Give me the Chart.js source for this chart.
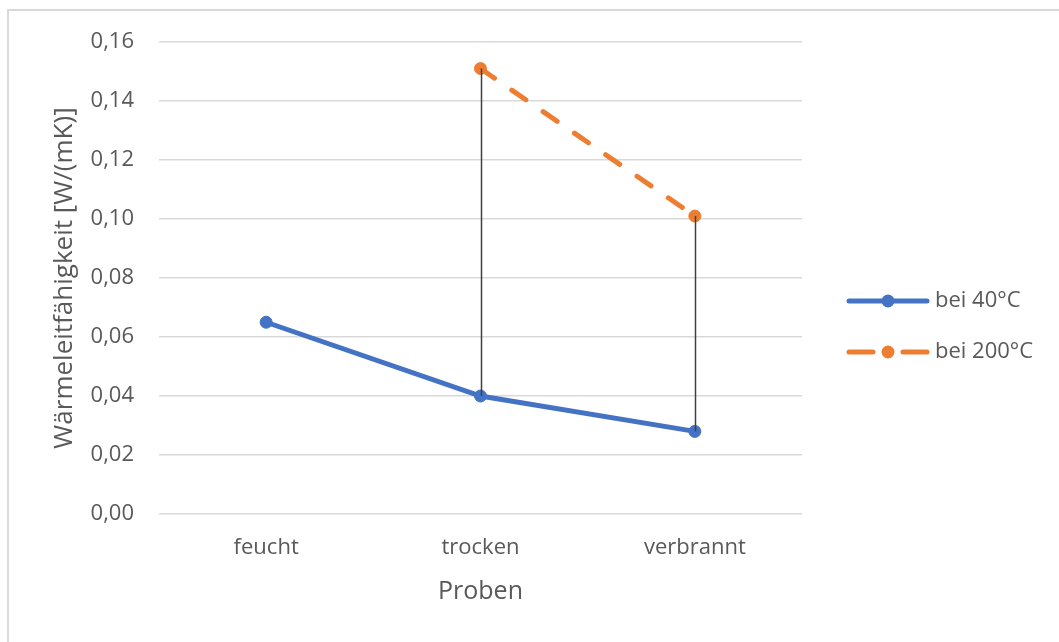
<!DOCTYPE html>
<html lang="de">
<head>
<meta charset="utf-8">
<title>Wärmeleitfähigkeit</title>
<script src="https://cdn.jsdelivr.net/npm/chart.js@4.4.1/dist/chart.umd.min.js"></script>
<style>
    html, body { margin: 0; padding: 0; background: #fff; }
    #wrap { position: relative; width: 1059px; height: 642px; }
</style>
</head>
<body>
<div id="wrap"><canvas id="chart" width="1059" height="642"></canvas></div>
<script>
const categories = ['feucht', 'trocken', 'verbrannt'];
const values40 = [0.065, 0.040, 0.028];
const values200 = [null, 0.151, 0.101];
const seriesNames = ['bei 40°C', 'bei 200°C'];
const yTicks = [0, 0.02, 0.04, 0.06, 0.08, 0.10, 0.12, 0.14, 0.16];

const textColor = '#595959';
const gridColor = '#d9d9d9';
const fontFamily = "'Open Sans', 'Noto Sans', sans-serif";

const fmt = v => v.toFixed(2).replace('.', ',');

// outer frame of the chart object (top and left edges only)
const framePlugin = {
    id: 'frame',
    beforeDraw(chart) {
        const ctx = chart.ctx;
        ctx.save();
        ctx.strokeStyle = gridColor;
        ctx.lineWidth = 2;
        ctx.beginPath();
        ctx.moveTo(8, chart.height);
        ctx.lineTo(8, 10);
        ctx.lineTo(chart.width, 10);
        ctx.stroke();
        ctx.restore();
    }
};

// vertical high-low lines between the two series
const hiLoPlugin = {
    id: 'hiLo',
    afterDatasetsDraw(chart) {
        const ctx = chart.ctx;
        const x = chart.scales.x, y = chart.scales.y;
        ctx.save();
        ctx.strokeStyle = '#404040';
        ctx.lineWidth = 1.5;
        categories.forEach((c, i) => {
            if (values40[i] == null || values200[i] == null) return;
            const px = Math.round(x.getPixelForValue(i)) + 0.5;
            ctx.beginPath();
            ctx.moveTo(px, y.getPixelForValue(values200[i]));
            ctx.lineTo(px, y.getPixelForValue(values40[i]));
            ctx.stroke();
        });
        ctx.restore();
    }
};

// legend with line + marker sample, right of the plot
const legendPlugin = {
    id: 'sideLegend',
    afterDraw(chart) {
        const ctx = chart.ctx;
        const x0 = 849, x1 = 927, tx = 935;
        const rows = [301, 352];
        ctx.save();
        chart.data.datasets.forEach((ds, i) => {
            const yy = rows[i];
            ctx.strokeStyle = ds.borderColor;
            ctx.lineWidth = ds.borderWidth;
            ctx.lineCap = 'round';
            ctx.beginPath();
            if (ds.borderDash) {
                ctx.moveTo(x0, yy); ctx.lineTo(x0 + 24, yy);
                ctx.moveTo(x1 - 24, yy); ctx.lineTo(x1, yy);
            } else {
                ctx.moveTo(x0, yy); ctx.lineTo(x1, yy);
            }
            ctx.stroke();
            ctx.fillStyle = ds.pointBackgroundColor;
            ctx.beginPath();
            ctx.arc((x0 + x1) / 2, yy, 6.5, 0, Math.PI * 2);
            ctx.fill();
            ctx.fillStyle = textColor;
            ctx.font = `22px ${fontFamily}`;
            ctx.textBaseline = 'middle';
            ctx.textAlign = 'left';
            ctx.fillText(ds.label, tx, yy);
        });
        ctx.restore();
    }
};

new Chart(document.getElementById('chart'), {
    type: 'line',
    data: {
        labels: categories,
        datasets: [
            {
                label: seriesNames[0],
                data: values40,
                borderColor: '#4472c4',
                backgroundColor: '#4472c4',
                pointBackgroundColor: '#4472c4',
                pointBorderColor: '#4472c4',
                borderWidth: 5,
                pointRadius: 6,
                pointBorderWidth: 1,
                borderCapStyle: 'round',
                tension: 0
            },
            {
                label: seriesNames[1],
                data: values200,
                borderColor: '#ed7d31',
                backgroundColor: '#ed7d31',
                pointBackgroundColor: '#ed7d31',
                pointBorderColor: '#ed7d31',
                borderWidth: 5,
                borderDash: [17, 21],
                borderCapStyle: 'round',
                pointRadius: 6,
                pointBorderWidth: 1,
                tension: 0
            }
        ]
    },
    options: {
        responsive: false,
        animation: false,
        devicePixelRatio: 1,
        layout: { padding: { left: 0, right: 257, top: 42, bottom: 0 } },
        plugins: {
            legend: { display: false },
            tooltip: { enabled: false }
        },
        scales: {
            x: {
                offset: true,
                grid: { display: false, drawTicks: false },
                border: { display: false },
                ticks: {
                    color: textColor,
                    font: { family: fontFamily, size: 22 },
                    padding: 21
                },
                title: {
                    display: true,
                    text: 'Proben',
                    color: textColor,
                    font: { family: fontFamily, size: 25 },
                    padding: { top: 0, bottom: 35 }
                },
                afterFit(scale) { scale.height = 642 - 514; }
            },
            y: {
                min: 0,
                max: 0.16,
                afterBuildTicks(scale) { scale.ticks = yTicks.map(v => ({ value: v })); },
                grid: { color: gridColor, lineWidth: 1.5, drawTicks: false },
                border: { display: false },
                ticks: {
                    color: textColor,
                    font: { family: fontFamily, size: 22 },
                    padding: 25,
                    callback: v => fmt(v)
                },
                title: {
                    display: true,
                    text: 'Wärmeleitfähigkeit [W/(mK)]',
                    color: textColor,
                    font: { family: fontFamily, size: 26 },
                    padding: { top: 49, bottom: 0 }
                },
                afterFit(scale) { scale.width = 159; }
            }
        }
    },
    plugins: [framePlugin, hiLoPlugin, legendPlugin]
});
</script>
</body>
</html>
